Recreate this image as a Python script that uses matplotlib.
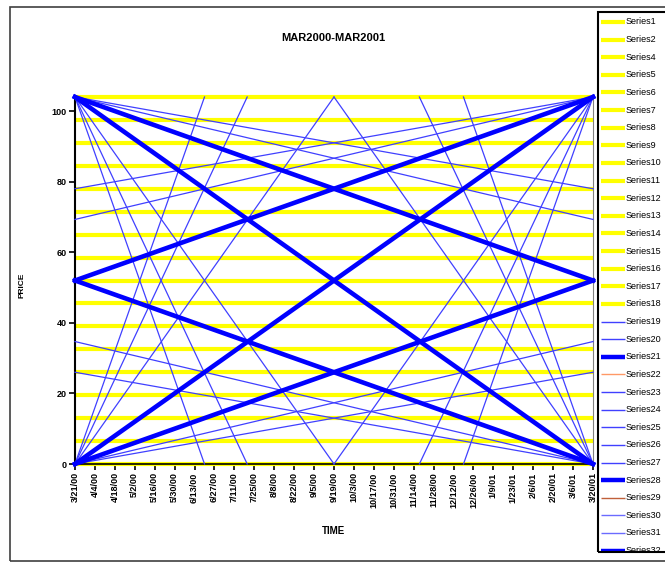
"""MAR2000-MAR2001 price grid chart (Excel style)."""
import datetime as dt
import matplotlib
matplotlib.use('Agg')
import matplotlib.pyplot as plt
from matplotlib.lines import Line2D
from matplotlib.patches import Rectangle

plt.rcParams['font.family'] = ['Liberation Sans', 'DejaVu Sans']

# x axis tick labels (every two weeks)
tick_labels = ['3/21/00', '4/4/00', '4/18/00', '5/2/00', '5/16/00', '5/30/00',
               '6/13/00', '6/27/00', '7/11/00', '7/25/00', '8/8/00', '8/22/00',
               '9/5/00', '9/19/00', '10/3/00', '10/17/00', '10/31/00',
               '11/14/00', '11/28/00', '12/12/00', '12/26/00', '1/9/01',
               '1/23/01', '2/6/01', '2/20/01', '3/6/01', '3/20/01']
y_ticks = [0, 20, 40, 60, 80, 100]

# flat yellow series (one price level each)
flat_names = ['Series1', 'Series2', 'Series4', 'Series5', 'Series6', 'Series7',
              'Series8', 'Series9', 'Series10', 'Series11', 'Series12',
              'Series13', 'Series14', 'Series15', 'Series16', 'Series17',
              'Series18']
flat_levels = [104, 97.5, 91, 84.5, 78, 71.5, 65, 58.5, 52, 45.5, 39, 32.5,
               26, 19.5, 13, 6.5, 0]

# heavy blue trend lines: start date, start price, end date, end price
thick_start = ['3/21/00', '3/21/00', '3/21/00', '3/21/00', '3/21/00', '3/21/00']
thick_start_val = [104, 104, 52, 52, 0, 0]
thick_end = ['3/20/01', '3/20/01', '3/20/01', '3/20/01', '3/20/01', '3/20/01']
thick_end_val = [0, 52, 104, 0, 104, 52]

# thin blue trend lines
thin_start = ['3/21/00', '3/21/00', '3/21/00', '3/21/00',
              '3/21/00', '3/21/00', '3/21/00', '3/21/00',
              '3/21/00', '3/21/00', '3/21/00',
              '3/21/00', '3/21/00', '3/21/00',
              '9/19/00', '11/18/00', '12/19/00',
              '9/19/00', '11/18/00', '12/19/00']
thin_start_val = [104, 104, 78, 69.3,
                  0, 0, 34.7, 26,
                  104, 104, 104,
                  0, 0, 0,
                  0, 0, 0,
                  104, 104, 104]
thin_end = ['3/20/01', '3/20/01', '3/20/01', '3/20/01',
            '3/20/01', '3/20/01', '3/20/01', '3/20/01',
            '6/20/00', '7/20/00', '9/19/00',
            '6/20/00', '7/20/00', '9/19/00',
            '3/20/01', '3/20/01', '3/20/01',
            '3/20/01', '3/20/01', '3/20/01']
thin_end_val = [78, 69.3, 104, 104,
                34.7, 26, 0, 0,
                0, 0, 0,
                104, 104, 104,
                104, 104, 104,
                0, 0, 0]

legend_names = flat_names + ['Series19', 'Series20', 'Series21', 'Series22',
                             'Series23', 'Series24', 'Series25', 'Series26',
                             'Series27', 'Series28', 'Series29', 'Series30',
                             'Series31', 'Series32']

YELLOW = '#ffff00'
BLUE = '#0000ff'
THIN_BLUE = '#4040ff'

legend_style = {'Series21': (BLUE, 3.2), 'Series28': (BLUE, 3.2),
                'Series32': (BLUE, 3.2), 'Series22': ('#ff9966', 1.0),
                'Series29': ('#c0603a', 1.0), 'Series30': ('#6b6bff', 1.0),
                'Series31': ('#6b6bff', 1.0)}


def to_date(s):
    return dt.datetime.strptime(s, '%m/%d/%y')


W, H = 665, 562
fig = plt.figure(figsize=(W / 100, H / 100), dpi=100)
fig.patch.set_facecolor('white')

# outer chart border
fig.add_artist(Rectangle((10 / W, 1 - 561 / H), 1.0, (561 - 7) / H,
                         transform=fig.transFigure, fill=False,
                         edgecolor='#404040', linewidth=1.2))

ax = fig.add_axes([75 / W, 1 - 464 / H, (593 - 75) / W, (464 - 97) / H])
x0, x1 = to_date(tick_labels[0]), to_date(tick_labels[-1])

for name, lev in zip(flat_names, flat_levels):
    ax.plot([x0, x1], [lev, lev], color=YELLOW, lw=3.0, clip_on=False,
            solid_capstyle='butt', zorder=2)

for s, sv, e, ev in zip(thin_start, thin_start_val, thin_end, thin_end_val):
    ax.plot([to_date(s), to_date(e)], [sv, ev], color=THIN_BLUE, lw=0.9,
            clip_on=False, zorder=3)

for s, sv, e, ev in zip(thick_start, thick_start_val, thick_end, thick_end_val):
    ax.plot([to_date(s), to_date(e)], [sv, ev], color=BLUE, lw=3.3,
            clip_on=False, zorder=4)

ax.set_xlim(x0, x1)
ax.set_ylim(0, 104)
ax.set_xticks([to_date(t) for t in tick_labels])
ax.set_xticklabels(tick_labels, rotation=90, fontsize=6.5, fontweight='bold')
ax.set_yticks(y_ticks)
ax.set_yticklabels([str(v) for v in y_ticks], fontsize=6.5, fontweight='bold')
ax.tick_params(axis='both', direction='out', length=4, width=1.2, pad=2)
ax.spines['top'].set_visible(False)
ax.spines['right'].set_color('#808080')
ax.spines['right'].set_linewidth(0.8)
ax.spines['left'].set_linewidth(1.5)
ax.spines['bottom'].set_linewidth(1.2)

fig.text(333 / W, 1 - 38 / H, 'MAR2000-MAR2001', ha='center', va='center',
         fontsize=8, fontweight='bold')
fig.text(22 / W, 1 - 285 / H, 'PRICE', ha='center', va='center',
         rotation=90, fontsize=6, fontweight='bold')
fig.text(333 / W, 1 - 531 / H, 'TIME', ha='center', va='center',
         fontsize=7, fontweight='bold')

# legend box, drawn by hand so the last entry is cut like the original
box = Rectangle((598 / W, 1 - 552 / H), 1.0, (552 - 12) / H,
                transform=fig.transFigure, fill=False, edgecolor='black',
                linewidth=1.5, zorder=5)
fig.add_artist(box)
clip = Rectangle((598 / W, 1 - 552 / H), 1.0, (552 - 12) / H,
                 transform=fig.transFigure)
for i, name in enumerate(legend_names):
    y = 1 - (22 + i * 17.62) / H
    if name in flat_names:
        color, lw = YELLOW, 3.0
    else:
        color, lw = legend_style.get(name, (THIN_BLUE, 1.0))
    ln = Line2D([601 / W, 625 / W], [y, y], transform=fig.transFigure,
                color=color, lw=lw, solid_capstyle='butt')
    ln.set_clip_path(clip)
    fig.add_artist(ln)
    t = fig.text(626 / W, y, name, ha='left', va='center', fontsize=6.5)
    t.set_clip_path(clip)

fig.savefig('out.png', dpi=100)
